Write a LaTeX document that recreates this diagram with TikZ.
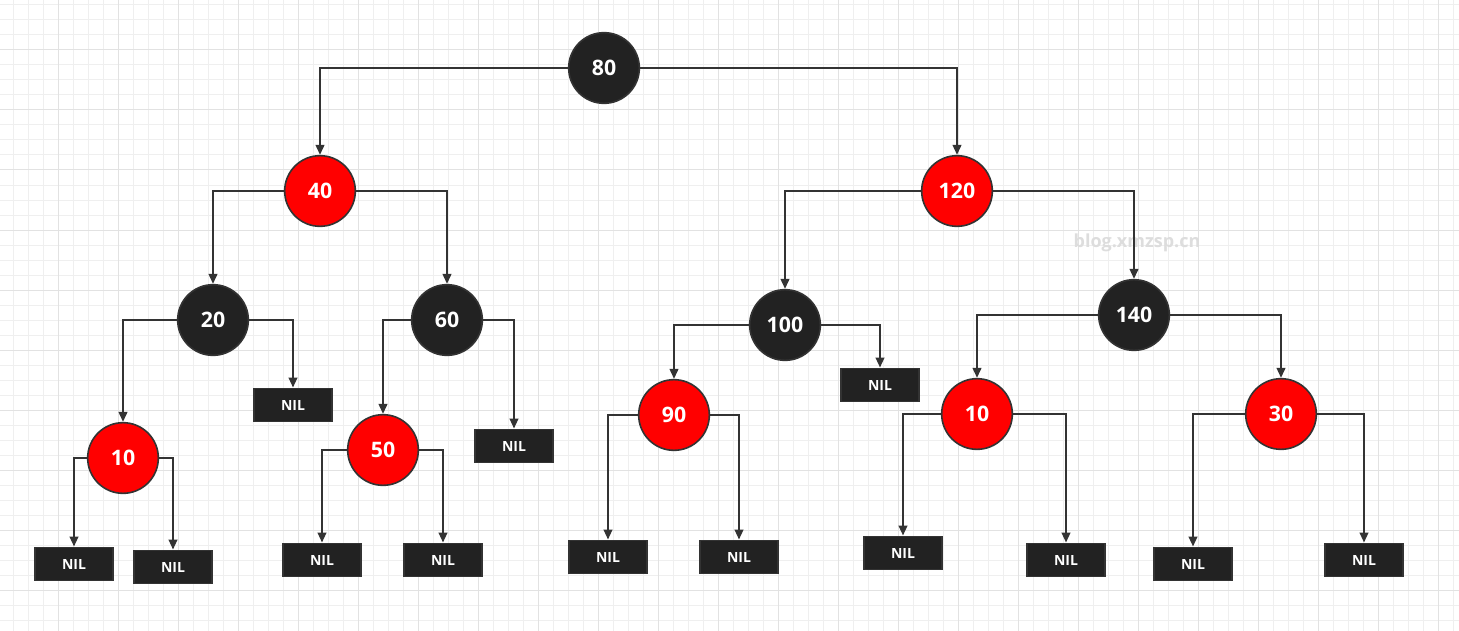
\documentclass[tikz,border=0pt]{standalone}
\usepackage{fontspec}
\setmainfont{Open Sans}
\usetikzlibrary{arrows.meta}
\definecolor{minorgrid}{HTML}{EFEFEF}
\definecolor{majorgrid}{HTML}{E2E2E2}
\definecolor{darkfill}{HTML}{222222}
\definecolor{linecol}{HTML}{333333}
\definecolor{redfill}{HTML}{FF0000}
\definecolor{wmark}{HTML}{DDDDDD}
\tikzset{
  blacknode/.style={circle,draw=linecol,line width=1.2pt,fill=darkfill,text=white,minimum size=53pt,inner sep=0pt,font=\bfseries\fontsize{16}{18}\selectfont},
  rednode/.style={blacknode,fill=redfill},
  nilbox/.style={rectangle,draw=linecol,line width=1.2pt,fill=darkfill,text=white,minimum width=58.5pt,minimum height=25pt,inner sep=0pt,font=\bfseries\fontsize{10.5}{12}\selectfont},
  edge/.style={draw=linecol,line width=1.5pt,-{Triangle[length=7.5pt,width=6.5pt]}},
  minorline/.style={draw=minorgrid,line width=0.75pt},
  majorline/.style={draw=majorgrid,line width=0.75pt},
}
\begin{document}
\begin{tikzpicture}[x=0.75pt,y=-0.75pt]
\useasboundingbox (0,0) rectangle (1459,631);
\fill[white] (0,0) rectangle (1459,631);
% grid
\foreach \x in {13,28,...,1458} \draw[minorline] (\x,0) -- (\x,631);
\foreach \y in {5,20,...,630} \draw[minorline] (0,\y) -- (1459,\y);
\foreach \x in {58,118,...,1458} \draw[majorline] (\x,0) -- (\x,631);
\foreach \y in {50,110,...,630} \draw[majorline] (0,\y) -- (1459,\y);
% watermark
\node[text=wmark,font=\bfseries\fontsize{13.5}{15}\selectfont] (wm) at (1137,243) {blog.xmzsp.cn};
% nodes
\node[blacknode] (n80) at (604,68) {80};
\node[rednode] (n40) at (320,191) {40};
\node[rednode] (n120) at (957,191) {120};
\node[blacknode] (n20) at (213,320) {20};
\node[blacknode] (n60) at (447,320) {60};
\node[blacknode] (n100) at (785,325) {100};
\node[blacknode] (n140) at (1134,315) {140};
\node[rednode] (n10a) at (123,458) {10};
\node[rednode] (n50) at (383,450) {50};
\node[rednode] (n90) at (674,415) {90};
\node[rednode] (n10b) at (977,414) {10};
\node[rednode] (n30) at (1281,414) {30};
\node[nilbox] (nil20) at (293,405) {NIL};
\node[nilbox] (nil60) at (514,446) {NIL};
\node[nilbox] (nil100) at (880,385) {NIL};
\node[nilbox] (nil10aL) at (74,564) {NIL};
\node[nilbox] (nil10aR) at (173,567) {NIL};
\node[nilbox] (nil50L) at (322,560) {NIL};
\node[nilbox] (nil50R) at (443,560) {NIL};
\node[nilbox] (nil90L) at (608,557) {NIL};
\node[nilbox] (nil90R) at (739,557) {NIL};
\node[nilbox] (nil10bL) at (903,553) {NIL};
\node[nilbox] (nil10bR) at (1066,560) {NIL};
\node[nilbox] (nil30L) at (1193,564) {NIL};
\node[nilbox] (nil30R) at (1364,560) {NIL};
% edges
\draw[edge] (n80.west) -| (n40.north);
\draw[edge] (n80.east) -| (n120.north);
\draw[edge] (n40.west) -| (n20.north);
\draw[edge] (n40.east) -| (n60.north);
\draw[edge] (n120.west) -| (n100.north);
\draw[edge] (n120.east) -| (n140.north);
\draw[edge] (n20.west) -| (n10a.north);
\draw[edge] (n20.east) -| (nil20.north);
\draw[edge] (n60.west) -| (n50.north);
\draw[edge] (n60.east) -| (nil60.north);
\draw[edge] (n100.west) -| (n90.north);
\draw[edge] (n100.east) -| (nil100.north);
\draw[edge] (n140.west) -| (n10b.north);
\draw[edge] (n140.east) -| (n30.north);
\draw[edge] (n10a.west) -| (nil10aL.north);
\draw[edge] (n10a.east) -| (nil10aR.north);
\draw[edge] (n50.west) -| (nil50L.north);
\draw[edge] (n50.east) -| (nil50R.north);
\draw[edge] (n90.west) -| (nil90L.north);
\draw[edge] (n90.east) -| (nil90R.north);
\draw[edge] (n10b.west) -| (nil10bL.north);
\draw[edge] (n10b.east) -| (nil10bR.north);
\draw[edge] (n30.west) -| (nil30L.north);
\draw[edge] (n30.east) -| (nil30R.north);
\end{tikzpicture}
\end{document}
